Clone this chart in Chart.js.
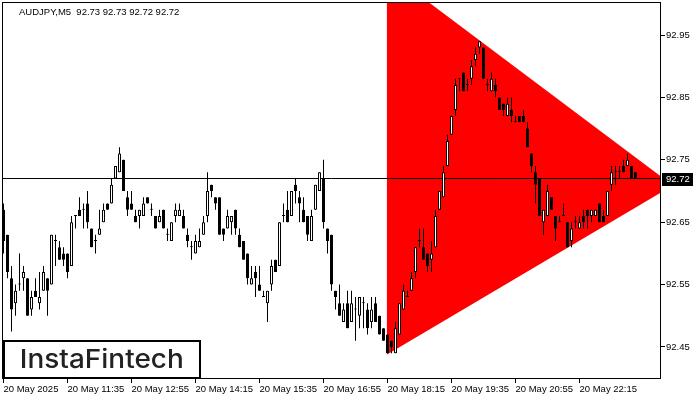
<!DOCTYPE html>
<html><head><meta charset="utf-8">
<script src="https://cdn.jsdelivr.net/npm/chart.js@4.4.1/dist/chart.umd.min.js"></script>
<style>html,body{margin:0;padding:0;background:#fff;}canvas{display:block;}</style>
</head><body>
<canvas id="c" width="700" height="400"></canvas>
<script>
const symbolLabel = 'AUDJPY,M5';
const logoText = 'InstaFintech';

const openP = [
92.67,92.63,92.56,92.52,92.55,92.56,92.56,92.51,92.54,92.52,
92.54,92.56,92.55,92.62,92.61,92.60,92.60,92.58,92.66,92.67,
92.67,92.68,92.64,92.62,92.63,92.65,92.68,92.68,92.72,92.73,
92.75,92.69,92.68,92.66,92.66,92.66,92.69,92.67,92.66,92.65,
92.67,92.63,92.62,92.66,92.66,92.66,92.63,92.61,92.60,92.61,
92.63,92.66,92.71,92.69,92.69,92.64,92.64,92.65,92.67,92.63,
92.62,92.60,92.55,92.57,92.55,92.53,92.52,92.55,92.59,92.58,
92.66,92.67,92.66,92.71,92.69,92.67,92.66,92.62,92.67,92.70,
92.72,92.64,92.63,92.54,92.52,92.49,92.52,92.49,92.51,92.50,
92.52,92.51,92.49,92.52,92.50,92.48,92.47,92.46,92.44,92.47,
92.51,92.53,92.54,92.57,92.62,92.61,92.60,92.59,92.61,92.67,
92.69,92.74,92.79,92.83,92.88,92.89,92.87,92.88,92.91,92.93,
92.93,92.87,92.86,92.87,92.85,92.84,92.82,92.83,92.81,92.82,
92.82,92.80,92.76,92.73,92.72,92.65,92.66,92.69,92.66,92.65,
92.66,92.65,92.62,92.65,92.64,92.66,92.67,92.66,92.66,92.68,
92.66,92.66,92.71,92.73,92.73,92.74,92.74,92.74,92.73];
const highP = [
92.68,92.63,92.58,92.55,92.60,92.58,92.56,92.54,92.56,92.57,
92.58,92.56,92.63,92.63,92.62,92.61,92.60,92.66,92.66,92.69,
92.68,92.70,92.64,92.63,92.67,92.68,92.68,92.72,92.74,92.77,
92.75,92.70,92.70,92.67,92.67,92.69,92.69,92.68,92.66,92.67,
92.67,92.64,92.65,92.68,92.68,92.67,92.64,92.62,92.63,92.64,
92.66,92.73,92.71,92.69,92.69,92.64,92.67,92.66,92.67,92.64,
92.62,92.60,92.58,92.58,92.58,92.54,92.54,92.59,92.59,92.65,
92.68,92.70,92.70,92.72,92.70,92.69,92.66,92.67,92.71,92.73,
92.75,92.64,92.63,92.54,92.55,92.52,92.54,92.54,92.53,92.53,
92.53,92.52,92.53,92.53,92.50,92.48,92.47,92.46,92.49,92.52,
92.55,92.54,92.57,92.61,92.64,92.64,92.60,92.62,92.67,92.70,
92.74,92.79,92.82,92.88,92.88,92.89,92.88,92.91,92.93,92.94,
92.93,92.88,92.89,92.88,92.85,92.84,92.85,92.85,92.82,92.82,
92.83,92.81,92.76,92.74,92.72,92.67,92.71,92.69,92.66,92.66,
92.68,92.65,92.65,92.66,92.66,92.67,92.67,92.67,92.67,92.68,
92.67,92.70,92.74,92.74,92.74,92.75,92.76,92.74,92.73];
const lowP = [
92.60,92.56,92.475,92.50,92.54,92.54,92.50,92.50,92.53,92.51,
92.54,92.50,92.55,92.58,92.59,92.58,92.56,92.58,92.64,92.66,
92.64,92.64,92.61,92.60,92.63,92.65,92.67,92.68,92.72,92.73,
92.70,92.66,92.67,92.65,92.64,92.66,92.68,92.66,92.64,92.65,
92.64,92.62,92.62,92.65,92.66,92.64,92.61,92.59,92.60,92.61,
92.63,92.65,92.69,92.67,92.63,92.62,92.64,92.63,92.63,92.61,
92.59,92.55,92.55,92.53,92.54,92.53,92.49,92.54,92.57,92.58,
92.65,92.65,92.66,92.68,92.65,92.65,92.62,92.62,92.67,92.70,
92.64,92.60,92.54,92.51,92.50,92.49,92.48,92.49,92.46,92.48,
92.48,92.47,92.48,92.49,92.47,92.46,92.44,92.44,92.44,92.47,
92.51,92.53,92.54,92.56,92.61,92.59,92.57,92.57,92.61,92.67,
92.69,92.74,92.79,92.82,92.86,92.86,92.86,92.87,92.90,92.92,
92.88,92.86,92.86,92.85,92.83,92.82,92.82,92.81,92.81,92.81,
92.81,92.77,92.73,92.68,92.66,92.63,92.66,92.67,92.62,92.65,
92.66,92.61,92.61,92.64,92.64,92.64,92.64,92.65,92.66,92.65,
92.65,92.66,92.70,92.71,92.72,92.73,92.74,92.72,92.72];
const closeP = [
92.62,92.57,92.51,92.54,92.55,92.57,92.50,92.53,92.53,92.53,
92.57,92.54,92.63,92.62,92.59,92.59,92.57,92.65,92.66,92.66,
92.67,92.65,92.61,92.62,92.64,92.67,92.67,92.71,92.74,92.76,
92.70,92.67,92.67,92.65,92.67,92.68,92.68,92.67,92.64,92.66,
92.64,92.63,92.65,92.67,92.67,92.64,92.62,92.61,92.62,92.62,
92.65,92.70,92.70,92.68,92.63,92.63,92.66,92.66,92.64,92.61,
92.59,92.56,92.56,92.56,92.54,92.53,92.54,92.58,92.57,92.65,
92.66,92.65,92.70,92.70,92.68,92.65,92.63,92.66,92.71,92.73,
92.65,92.62,92.55,92.53,92.50,92.51,92.48,92.52,92.51,92.53,
92.52,92.48,92.51,92.49,92.47,92.46,92.44,92.45,92.48,92.52,
92.54,92.53,92.56,92.61,92.62,92.59,92.58,92.60,92.66,92.70,
92.73,92.78,92.82,92.87,92.88,92.86,92.87,92.90,92.92,92.94,
92.88,92.87,92.88,92.86,92.83,92.83,92.84,92.82,92.81,92.81,
92.81,92.77,92.74,92.71,92.66,92.67,92.70,92.67,92.64,92.65,
92.66,92.61,92.64,92.65,92.65,92.65,92.66,92.67,92.67,92.65,
92.65,92.70,92.73,92.73,92.73,92.73,92.75,92.72,92.72];

const timeLabels = ['20 May 2025','20 May 11:35','20 May 12:55','20 May 14:15','20 May 15:35','20 May 16:55','20 May 18:15','20 May 19:35','20 May 20:55','20 May 22:15'];
const timeTickIdx = [0,16,32,48,64,80,96,112,128,144];
const priceTicks = [92.45,92.55,92.65,92.75,92.85,92.95];

// symmetrical triangle pattern (bar index, price)
const triUpperX = [95.8, 167.35];
const triUpperY = [93.053, 92.709];
const triLowerX = [95.8, 167.35];
const triLowerY = [92.4375, 92.709];

const xMin = -0.375, xMax = 164.375;
const yMin = 92.3987, yMax = 93.0029;

const n = closeP.length;
const idx = closeP.map((_, i) => i);
const bull = idx.map(i => closeP[i] > openP[i]);
const last = n - 1;

const decoPlugin = {
  id: 'deco',
  afterDraw(chart) {
    const {ctx, chartArea: a, scales} = chart;
    const y = scales.y;
    ctx.save();
    ctx.strokeStyle = '#000';
    ctx.lineWidth = 1;
    ctx.strokeRect(a.left + 0.5, a.top + 0.5, a.right - a.left - 1, a.bottom - a.top - 1);
    // header
    ctx.font = '9.5px "Liberation Sans"';
    ctx.fillStyle = '#000';
    ctx.textBaseline = 'alphabetic';
    ctx.textAlign = 'left';
    const hdr = symbolLabel + '  ' + [openP[last], highP[last], lowP[last], closeP[last]].map(v => v.toFixed(2)).join(' ');
    ctx.fillText(hdr, 19, 14.5);
    // last price box
    const yy = Math.round(y.getPixelForValue(closeP[last]));
    ctx.fillStyle = '#000';
    ctx.fillRect(a.right + 1, yy - 6, 31, 13);
    ctx.fillStyle = '#fff';
    ctx.textBaseline = 'middle';
    ctx.fillText(closeP[last].toFixed(2), a.right + 5, yy + 0.5);
    // logo
    ctx.fillStyle = '#fff';
    ctx.fillRect(4, 341, 196, 37);
    ctx.lineWidth = 2;
    ctx.strokeStyle = '#000';
    ctx.strokeRect(4, 341, 196, 37);
    ctx.font = '500 26px Inter';
    ctx.textBaseline = 'alphabetic';
    const m = ctx.measureText(logoText);
    const w = m.actualBoundingBoxLeft + m.actualBoundingBoxRight;
    ctx.translate(22, 368);
    ctx.scale(160 / w, 1);
    ctx.fillStyle = '#222';
    ctx.fillText(logoText, m.actualBoundingBoxLeft, 0);
    ctx.restore();
  }
};

const tickFont = {family: 'Liberation Sans', size: 9.5};

new Chart(document.getElementById('c'), {
  type: 'bar',
  data: {
    datasets: [
      {
        label: 'body', order: 0, grouped: false,
        data: idx.map(i => ({x: i, y: [Math.min(openP[i], closeP[i]), Math.max(openP[i], closeP[i])]})),
        backgroundColor: idx.map(i => bull[i] ? '#fff' : '#000'),
        borderColor: '#000', borderWidth: 1, borderSkipped: false,
        barThickness: 3, minBarLength: 1, inflateAmount: 0
      },
      {
        label: 'wick', order: 1, grouped: false,
        data: idx.map(i => ({x: i, y: [lowP[i], highP[i]]})),
        backgroundColor: '#000', borderWidth: 0,
        barThickness: 1, minBarLength: 1, inflateAmount: 0
      },
      {
        type: 'line', label: 'last', order: 2,
        data: [{x: xMin, y: closeP[last]}, {x: xMax, y: closeP[last]}],
        borderColor: '#000', borderWidth: 1, pointRadius: 0, fill: false
      },
      {
        type: 'line', label: 'triUpper', order: 3,
        data: triUpperX.map((v, i) => ({x: v, y: triUpperY[i]})),
        borderWidth: 0, pointRadius: 0, backgroundColor: '#ff0000', fill: '+1'
      },
      {
        type: 'line', label: 'triLower', order: 4,
        data: triLowerX.map((v, i) => ({x: v, y: triLowerY[i]})),
        borderWidth: 0, pointRadius: 0, fill: false
      }
    ]
  },
  options: {
    responsive: false, animation: false, devicePixelRatio: 1,
    layout: {padding: {left: 2, top: 2, right: 0, bottom: 0}},
    plugins: {legend: {display: false}, tooltip: {enabled: false}, filler: {propagate: false}},
    scales: {
      x: {
        type: 'linear', min: xMin, max: xMax, offset: false,
        grid: {drawOnChartArea: false, drawTicks: true, tickLength: 4, tickColor: '#000', offset: false},
        border: {display: false},
        afterBuildTicks: s => { s.ticks = timeTickIdx.map(v => ({value: v})); },
        afterFit: s => { s.height = 21; s.paddingLeft = 0; s.paddingRight = 0; },
        ticks: {
          autoSkip: false, maxRotation: 0, align: 'start', padding: 1, color: '#000', font: tickFont,
          callback: v => { const j = timeTickIdx.indexOf(v); return j >= 0 ? timeLabels[j] : ''; }
        }
      },
      y: {
        type: 'linear', position: 'right', min: yMin, max: yMax,
        grid: {drawOnChartArea: false, drawTicks: true, tickLength: 4, tickColor: '#000'},
        border: {display: false},
        afterBuildTicks: s => { s.ticks = priceTicks.map(v => ({value: v})); },
        afterFit: s => { s.width = 39; s.paddingTop = 0; s.paddingBottom = 0; },
        ticks: {padding: 1, color: '#000', font: tickFont, callback: v => Number(v).toFixed(2)}
      }
    }
  },
  plugins: [decoPlugin]
});
</script>
</body></html>
